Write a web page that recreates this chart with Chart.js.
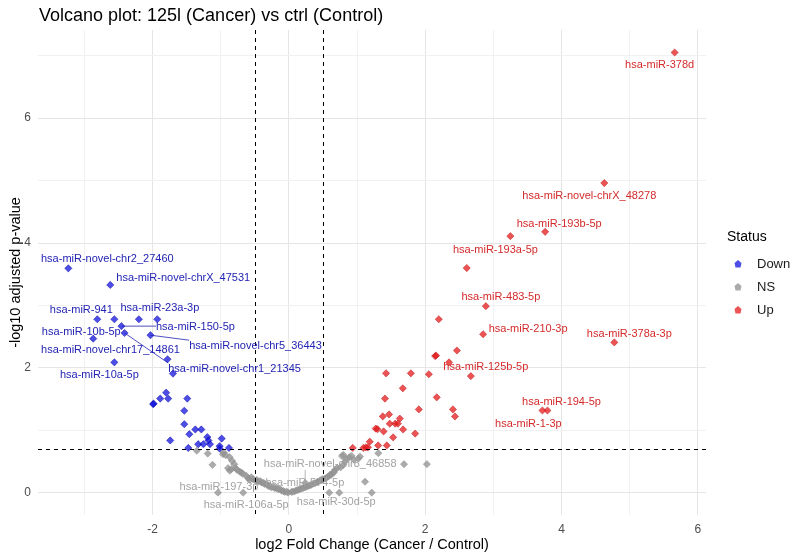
<!DOCTYPE html>
<html>
<head>
<meta charset="utf-8">
<title>Volcano plot</title>
<script src="https://cdn.jsdelivr.net/npm/chart.js@4.4.1/dist/chart.umd.min.js"></script>
<style>
    html, body { margin: 0; padding: 0; background: #ffffff; }
    #contenitore { width: 804px; height: 560px; }
</style>
</head>
<body>
<div id="contenitore"><canvas id="canvasVolcano" width="804" height="560"></canvas></div>
<script>
"use strict";

// ============================================================
// DATI (log2FC, -log10 padj, nome miRNA)
// ============================================================
const titolo = "Volcano plot: 125l (Cancer) vs ctrl (Control)";
const titoloX = "log2 Fold Change (Cancer / Control)";
const titoloY = "-log10 adjusted p-value";
const categorie = ["Down", "NS", "Up"];

// soglie (linee tratteggiate)
const sogliaFC = 0.5;
const sogliaPadj = 0.2;

// --- Down (blu) ---
const downNomi = [
    "hsa-miR-novel-chr2_27460", "hsa-miR-novel-chrX_47531", "hsa-miR-941", "hsa-miR-23a-3p",
    "hsa-miR-150-5p", "hsa-miR-10b-5p", "hsa-miR-novel-chr5_36443", "hsa-miR-novel-chr17_14861",
    "hsa-miR-10a-5p", "hsa-miR-novel-chr1_21345", "", "", "",
    "", "", "", "", "", "", "", "", "", "", "", "", "", "", "", "", "", "", "", "", "", ""
];
const downX = [
    -3.235, -2.62, -2.81, -2.20, -2.456, -2.87, -2.03, -1.78, -2.56, -2.41, -2.56, -1.93, -1.70,
    -1.985, -1.99, -1.887, -1.80, -1.77, -1.49, -1.534, -1.534, -1.46, -1.372, -1.284, -1.74,
    -1.475, -1.33, -1.254, -1.196, -1.18, -1.157, -1.015, -1.015, -0.985, -0.878
];
const downY = [
    3.595, 3.33, 2.78, 2.78, 2.67, 2.47, 2.525, 2.14, 2.09, 2.56, 2.78, 2.78, 1.91,
    1.43, 1.42, 1.51, 1.605, 1.51, 1.51, 1.316, 1.10, 0.94, 1.016, 1.016, 0.84,
    0.72, 0.78, 0.78, 0.894, 0.84, 0.78, 0.75, 0.71, 0.87, 0.72
];

// --- Up (rosso) ---
const upNomi = [
    "hsa-miR-378d", "hsa-miR-novel-chrX_48278", "hsa-miR-193b-5p", "hsa-miR-193a-5p",
    "hsa-miR-483-5p", "hsa-miR-210-3p", "hsa-miR-378a-3p", "hsa-miR-125b-5p",
    "hsa-miR-194-5p", "hsa-miR-1-3p",
    "", "", "", "", "", "", "", "", "", "", "", "", "", "", "", "", "", "", "", "", "",
    "", "", "", "", "", "", "", "", "", "", "", "", ""
];
const upX = [
    5.66, 4.628, 3.76, 3.25, 2.89, 2.85, 4.775, 2.67, 3.794, 3.72,
    2.61, 2.20, 2.466, 2.147, 2.16, 2.35, 1.426, 1.79, 2.054, 1.672, 1.41, 2.17, 1.907, 2.407,
    2.437, 1.378, 1.47, 1.628, 1.48, 1.56, 1.60, 1.275, 1.30, 1.39, 1.676, 1.853, 1.53,
    1.187, 1.31, 1.437, 0.937, 1.093, 1.13, 1.16
];
const upY = [
    7.05, 4.96, 4.18, 4.11, 2.99, 2.54, 2.41, 1.87, 1.32, 1.32,
    3.60, 2.78, 2.28, 2.19, 2.20, 2.09, 1.915, 1.915, 1.90, 1.675, 1.51, 1.53, 1.337, 1.337,
    1.225, 1.225, 1.257, 1.19, 1.108, 1.108, 1.108, 1.03, 1.02, 0.985, 1.016, 0.95, 0.89,
    0.82, 0.76, 0.76, 0.72, 0.72, 0.73, 0.73
];

// --- NS (grigio) ---
const nsNomi = [
    "hsa-miR-197-3p", "hsa-miR-106a-5p", "hsa-miR-30d-5p", "hsa-miR-574-5p", "hsa-miR-novel-chr8_46858"
];
const nsX = [
    -1.04, -0.67, 0.74, 0.235, 0.24,
    -1.35, -1.19, -1.12, -0.966, -0.956, -0.926, -0.868, -0.834, -0.80, -0.892, -0.868, -0.843,
    -0.78, -0.76, -0.72, -0.696, -0.672, -0.622, -0.598, -0.574, -0.525, -0.485, -0.451, -0.40,
    -0.353, -0.304, -0.255, -0.206, -0.157, -0.108, -0.059, -0.01,
    -0.55, -0.47, -0.42, -0.37, -0.32, -0.28, -0.23, -0.18, -0.13, -0.08, -0.03,
    0.039, 0.088, 0.137, 0.186, 0.284, 0.333, 0.382, 0.431, 0.48, 0.53, 0.578, 0.603, 0.642,
    0.676, 0.71, 0.76, 0.80, 0.823, 0.848, 0.887, 0.92, 0.956, 1.02, 1.044, 0.80, 0.78,
    0.06, 0.11, 0.16, 0.21, 0.26, 0.31, 0.36, 0.41, 0.46, 0.50, 0.55, 0.62, 0.66,
    1.313, 1.69, 2.025, 1.118, 0.593, 1.216
];
const nsY = [
    0.005, 0.005, 0.005, 0.09, 0.16,
    0.675, 0.63, 0.45, 0.62, 0.647, 0.605, 0.573, 0.514, 0.46, 0.397, 0.358, 0.38,
    0.397, 0.37, 0.34, 0.326, 0.305, 0.273, 0.236, 0.209, 0.22, 0.193, 0.18, 0.166,
    0.144, 0.112, 0.09, 0.075, 0.059, 0.037, 0.016, 0.005,
    0.25, 0.21, 0.19, 0.16, 0.14, 0.11, 0.10, 0.08, 0.06, 0.03, 0.02,
    0.016, 0.027, 0.048, 0.07, 0.112, 0.133, 0.155, 0.18, 0.209, 0.23, 0.262, 0.289, 0.316,
    0.369, 0.40, 0.41, 0.45, 0.50, 0.54, 0.573, 0.594, 0.53, 0.55, 0.583, 0.61, 0.59,
    0.02, 0.04, 0.06, 0.08, 0.10, 0.12, 0.15, 0.17, 0.20, 0.22, 0.24, 0.29, 0.33,
    0.637, 0.46, 0.46, 0.18, 0.005, 0.005
];

// ============================================================
// STILE — colori e posizione delle etichette (in pixel)
// [dx, dy, segmento] rispetto al punto
// ============================================================
const coloriPunti = { Down: "rgba(10, 10, 220, 0.72)", NS: "rgba(150, 150, 150, 0.8)", Up: "rgba(228, 26, 28, 0.75)" };
const bordiPunti = { Down: "rgba(0, 0, 170, 0.8)", NS: "rgba(140, 140, 140, 0.8)", Up: "rgba(190, 20, 20, 0.8)" };
const coloriTesto = { Down: "#2323b4", NS: "#a3a3a3", Up: "#d42a2a" };
const FONT = "'Liberation Sans', Arial, sans-serif";

const spostamenti = {
    "hsa-miR-novel-chr2_27460": [39, -9], "hsa-miR-novel-chrX_47531": [73, -7],
    "hsa-miR-941": [-16, -9], "hsa-miR-23a-3p": [21, -11], "hsa-miR-150-5p": [74, 1, true],
    "hsa-miR-10b-5p": [-12, -7], "hsa-miR-novel-chr5_36443": [105, 11, true],
    "hsa-miR-novel-chr17_14861": [-57, -9], "hsa-miR-10a-5p": [-15, 13],
    "hsa-miR-novel-chr1_21345": [110, 36, true],
    "hsa-miR-378d": [-15, 12], "hsa-miR-novel-chrX_48278": [-15, 13], "hsa-miR-193b-5p": [14, -8],
    "hsa-miR-193a-5p": [-15, 14], "hsa-miR-483-5p": [15, -9], "hsa-miR-210-3p": [45, -5],
    "hsa-miR-378a-3p": [15, -8], "hsa-miR-125b-5p": [15, -9], "hsa-miR-194-5p": [14, -9],
    "hsa-miR-1-3p": [-14, 13],
    "hsa-miR-197-3p": [1, -6], "hsa-miR-106a-5p": [3, 12], "hsa-miR-30d-5p": [-3, 9],
    "hsa-miR-574-5p": [0, -4], "hsa-miR-novel-chr8_46858": [25, -19, true]
};

// costruisce i punti {x, y, nome} per Chart.js
function costruisciPunti(xs, ys, nomi) {
    let punti = [];
    for (let i = 0; i < xs.length; i++)
        punti.push({ x: xs[i], y: ys[i], nome: nomi[i] || "" });
    return punti;
}

// ============================================================
// PLUGIN — titolo, linee soglia, etichette, legenda
// ============================================================
const pluginVolcano = {
    id: "volcano",
    afterDatasetsDraw(chart) {
        const ctx = chart.ctx;
        const area = chart.chartArea;
        const sx = chart.scales.x, sy = chart.scales.y;

        // linee tratteggiate delle soglie
        ctx.save();
        ctx.strokeStyle = "#000000";
        ctx.lineWidth = 1;
        ctx.setLineDash([4, 4]);
        [-sogliaFC, sogliaFC].forEach(function (v) {
            let px = Math.round(sx.getPixelForValue(v)) + 0.5;
            ctx.beginPath(); ctx.moveTo(px, area.top); ctx.lineTo(px, area.bottom); ctx.stroke();
        });
        let py = Math.round(sy.getPixelForValue(-Math.log10(sogliaPadj))) + 0.5;
        ctx.beginPath(); ctx.moveTo(area.left, py); ctx.lineTo(area.right, py); ctx.stroke();
        ctx.restore();

        // etichette dei miRNA (stile ggrepel)
        ctx.save();
        ctx.font = "11px " + FONT;
        ctx.textAlign = "center";
        ctx.textBaseline = "middle";
        chart.data.datasets.forEach(function (ds) {
            ds.data.forEach(function (p) {
                if (!p.nome || !spostamenti[p.nome]) return;
                let s = spostamenti[p.nome];
                let px = sx.getPixelForValue(p.x), py2 = sy.getPixelForValue(p.y);
                let cx = px + s[0], cy = py2 + s[1];
                ctx.fillStyle = coloriTesto[ds.label];
                ctx.strokeStyle = coloriTesto[ds.label];
                if (s[2]) {
                    let w = ctx.measureText(p.nome).width;
                    let ex = Math.min(Math.max(px, cx - w / 2), cx + w / 2);
                    let ey = Math.min(Math.max(py2, cy - 6), cy + 6);
                    ctx.lineWidth = 0.8;
                    ctx.beginPath(); ctx.moveTo(px, py2); ctx.lineTo(ex, ey); ctx.stroke();
                }
                ctx.fillText(p.nome, cx, cy);
            });
        });
        ctx.restore();
    },
    afterDraw(chart) {
        const ctx = chart.ctx;
        ctx.save();
        // titolo
        ctx.fillStyle = "#000000";
        ctx.font = "18px " + FONT;
        ctx.textAlign = "left";
        ctx.textBaseline = "middle";
        ctx.fillText(titolo, chart.chartArea.left + 1, 16);

        // legenda a destra
        ctx.font = "14px " + FONT;
        ctx.fillText("Status", 727, 237);
        ctx.font = "13px " + FONT;
        categorie.forEach(function (c, i) {
            let yy = 264 + i * 23;
            ctx.fillStyle = coloriPunti[c];
            ctx.beginPath();
            ctx.moveTo(738, yy - 4);
            ctx.lineTo(741.5, yy - 1);
            ctx.lineTo(740.5, yy + 3.5);
            ctx.lineTo(735.5, yy + 3.5);
            ctx.lineTo(734.5, yy - 1);
            ctx.closePath();
            ctx.fill();
            ctx.fillStyle = "#1a1a1a";
            ctx.fillText(c, 757, yy);
        });
        ctx.restore();
    }
};

// griglia stile theme_minimal: maggiori sui pari, minori sui dispari
function coloreGriglia(c) { return (c.tick && c.tick.value % 2 === 0) ? "#e5e5e5" : "#f1f1f1"; }

// ============================================================
// GRAFICO
// ============================================================
function creaGrafico() {
    let ctx = document.getElementById("canvasVolcano");
    new Chart(ctx, {
        type: "scatter",
        data: {
            datasets: [
                { label: "NS", data: costruisciPunti(nsX, nsY, nsNomi), backgroundColor: coloriPunti.NS, borderColor: bordiPunti.NS },
                { label: "Down", data: costruisciPunti(downX, downY, downNomi), backgroundColor: coloriPunti.Down, borderColor: bordiPunti.Down },
                { label: "Up", data: costruisciPunti(upX, upY, upNomi), backgroundColor: coloriPunti.Up, borderColor: bordiPunti.Up }
            ]
        },
        options: {
            responsive: false,
            animation: false,
            devicePixelRatio: 1,
            layout: { padding: { top: 30, right: 98, left: 0, bottom: 0 } },
            elements: { point: { pointStyle: "rectRot", radius: 3.6, borderWidth: 0.6, hoverRadius: 3.6 } },
            plugins: { legend: { display: false }, tooltip: { enabled: false }, title: { display: false } },
            scales: {
                x: {
                    type: "linear", min: -3.68, max: 6.12,
                    afterFit: function (s) { s.height = 45; },
                    border: { display: false },
                    grid: { color: coloreGriglia, lineWidth: 1, drawTicks: false },
                    ticks: {
                        stepSize: 1, includeBounds: false, padding: 7, color: "#4d4d4d",
                        font: { family: FONT, size: 12 }, maxRotation: 0, autoSkip: false,
                        callback: function (v) { return v % 2 === 0 ? String(v) : ""; }
                    },
                    title: { display: true, text: titoloX, color: "#000000", font: { family: FONT, size: 14.5 }, padding: { top: 0, bottom: 6 } }
                },
                y: {
                    type: "linear", min: -0.353, max: 7.41,
                    afterFit: function (s) { s.width = 38; },
                    border: { display: false },
                    grid: { color: coloreGriglia, lineWidth: 1, drawTicks: false },
                    ticks: {
                        stepSize: 1, includeBounds: false, padding: 7, color: "#4d4d4d",
                        font: { family: FONT, size: 12 }, autoSkip: false,
                        callback: function (v) { return v % 2 === 0 ? String(v) : ""; }
                    },
                    title: { display: true, text: titoloY, color: "#000000", font: { family: FONT, size: 14.5 }, padding: { top: 7, bottom: 0 } }
                }
            }
        },
        plugins: [pluginVolcano]
    });
}

creaGrafico();
</script>
</body>
</html>
